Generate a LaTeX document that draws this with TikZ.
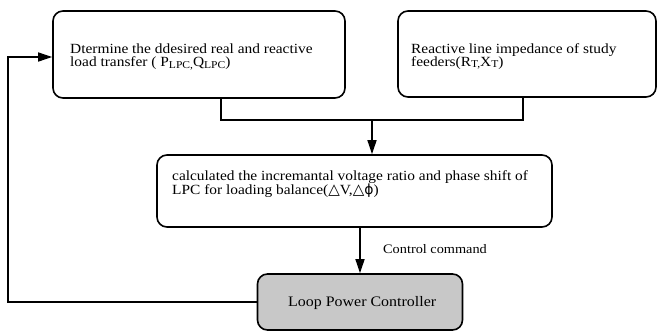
\documentclass[tikz,border=0pt]{standalone}
\usepackage{fontspec}
\setmainfont{Liberation Serif}[FakeStretch=1.1]
\newfontfamily\trifont{DejaVu Sans}
\usetikzlibrary{arrows.meta}
\definecolor{lpcgray}{RGB}{200,200,200}
\newcommand{\lowtext}[1]{\raisebox{-0.1em}{\fontsize{10.5}{10}\selectfont #1}}
\newcommand{\tri}{{\trifont\fontsize{15}{13}\selectfont △}}
\tikzset{
  box/.style={draw, line width=1.6pt, rounded corners=10pt},
  lbl/.style={anchor=north west, inner sep=0pt, align=left, font=\fontsize{14}{13}\selectfont},
  arr/.style={line width=1.4pt, -{Triangle[length=14pt,width=9pt]}}
}

\begin{document}
\begin{tikzpicture}[x=1pt,y=-1pt]
    \useasboundingbox (0,0) rectangle (658,332);
    % BOXES
    \node[box, minimum width=292pt, minimum height=87pt] (desired) at (199,54.5) {};
    \node[box, minimum width=258pt, minimum height=86pt] (feeder) at (527,54) {};
    \node[box, minimum width=395pt, minimum height=72pt] (ratio) at (354.5,191) {};
    \node[box, fill=lpcgray, minimum width=205pt, minimum height=56pt] (lpc) at (360,302) {};
    % TEXTS
    \node[lbl] (desiredtxt) at (70,44) {Dtermine the ddesired real and reactive\\load transfer ( P\lowtext{LPC,}Q\lowtext{LPC})};
    \node[lbl] (feedertxt) at (411,43) {Reactive line impedance of study\\feeders(R\lowtext{T,}X\lowtext{T})};
    \node[lbl] (ratiotxt) at (172,170) {calculated the incremantal voltage ratio and phase shift of\\LPC for loading balance(\tri V,\tri{\trifont\fontsize{14}{13}\selectfont ϕ})};
    \node[lbl, font=\fontsize{14.5}{13}\selectfont] (lpctxt) at (288,296) {Loop Power Controller};
    \node[lbl, font=\fontsize{13}{13}\selectfont] (cmd) at (383,244) {Control command};
    % JUNCTION
    \coordinate (J) at (372,120);
    \coordinate (F) at (8,300);
    \draw[line width=1.4pt] ([xshift=22pt]desired.south) |- (J);
    \draw[line width=1.4pt] ([xshift=-4pt]feeder.south) |- (J);
    \draw[arr] (J) -- (J |- ratio.north);
    \draw[arr] (ratio.south -| lpc.north) -- (lpc.north);
    \draw[arr] (lpc.west) -- (lpc.west -| F) |- ([yshift=-2.5pt]desired.west); %RETROAZIONE
\end{tikzpicture}
\end{document}
